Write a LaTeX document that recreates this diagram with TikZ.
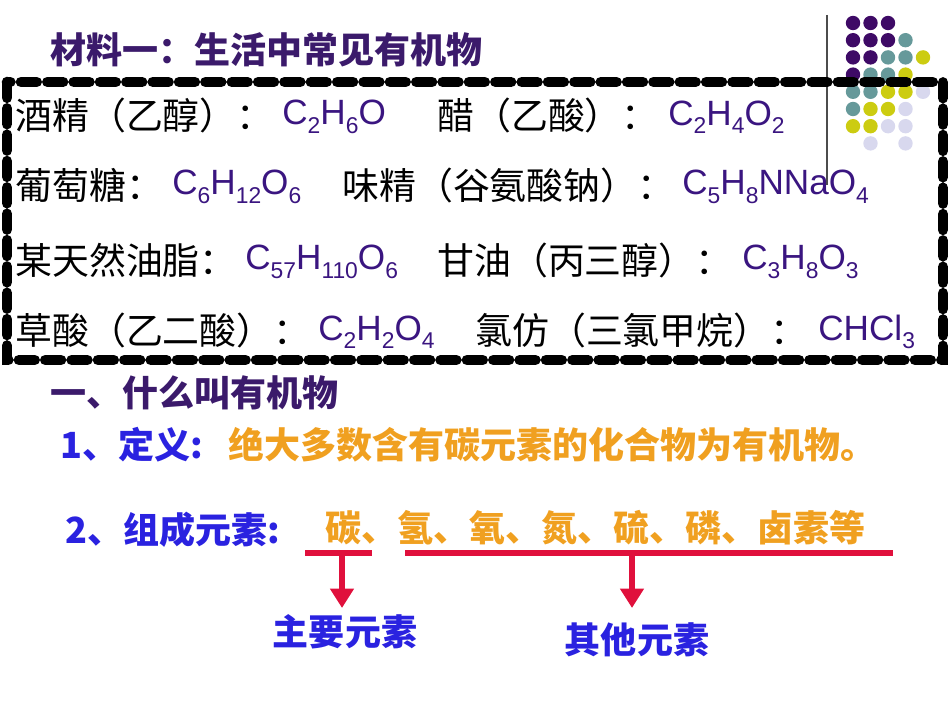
\documentclass[tikz,border=0pt]{standalone}
\usepackage{fontspec}
\usetikzlibrary{arrows.meta}
\setmainfont{Liberation Sans}
\newfontfamily\cjk{Noto Sans CJK SC}
\definecolor{ttl}{HTML}{3B1A6B}
\definecolor{frm}{HTML}{3A1580}
\definecolor{blu}{HTML}{2A22E0}
\definecolor{org}{HTML}{F0A020}
\definecolor{rd}{HTML}{E0103C}
\definecolor{dP}{HTML}{3E0A66}
\definecolor{dT}{HTML}{66999A}
\definecolor{dY}{HTML}{CCCC11}
\definecolor{dL}{HTML}{D8D8EE}
\newcommand\sbs[1]{\raisebox{-0.45ex}{\fontsize{13}{13}\selectfont #1}}
\begin{document}
\begin{tikzpicture}[x=0.02cm,y=-0.02cm,
  cn/.style={anchor=west,inner sep=0,font=\cjk\fontsize{21}{21}\selectfont},
  fm/.style={anchor=west,inner sep=0,text=frm,font=\fontsize{20}{20}\selectfont},
  hd/.style={anchor=west,inner sep=0,text=ttl,font=\cjk\bfseries\fontsize{20.5}{20.5}\selectfont},
  bar/.style={rd,line width=3pt},
  arr/.style={rd,line width=3pt,-{Triangle[length=11pt,width=13pt]}}]
\useasboundingbox (0,0) rectangle (950,713);
% decoration
\draw[black!70,line width=0.8pt] (827,15) -- (827,185);
\foreach \r/\lst in {0/{1/P,2/P,3/P},1/{1/P,2/P,3/P,4/T},2/{1/P,2/P,3/T,4/T,5/Y},3/{1/P,2/T,3/T,4/Y},4/{1/T,2/T,3/Y,4/Y,5/L},5/{1/T,2/Y,3/Y,4/L},6/{1/Y,2/Y,3/L,4/L},7/{2/L,4/L}}{
  \foreach \c/\k in \lst { \fill[d\k] ({853+17.5*(\c-1)},{23+17.2*\r}) circle (7.2); } }
\draw[line width=6pt,line cap=round,dash pattern=on 9pt off 6pt] (7,82) rectangle (943,360);
\node[hd] (t1) at (50,50) {材料一：生活中常见有机物};
\node[cn] (a1) at (15,115) {酒精（乙醇）：};
\node[fm] (f1) at (282,117) {C\sbs2H\sbs6O};
\node[cn] (a2) at (437,115) {醋（乙酸）：};
\node[fm] (f2) at (668,117) {C\sbs2H\sbs4O\sbs2};
\node[cn] (b1) at (15,185) {葡萄糖：};
\node[fm] (g1) at (172,187) {C\sbs6H\sbs{12}O\sbs6};
\node[cn] (b2) at (342,185) {味精（谷氨酸钠）：};
\node[fm] (g2) at (682,187) {C\sbs5H\sbs8NNaO\sbs4};
\node[cn] (c1) at (15,260) {某天然油脂：};
\node[fm] (h1) at (245,262) {C\sbs{57}H\sbs{110}O\sbs6};
\node[cn] (c2) at (437,260) {甘油（丙三醇）：};
\node[fm] (h2) at (742,262) {C\sbs3H\sbs8O\sbs3};
\node[cn] (d1) at (15,330) {草酸（乙二酸）：};
\node[fm] (k1) at (318,332) {C\sbs2H\sbs2O\sbs4};
\node[cn] (d2) at (475,330) {氯仿（三氯甲烷）：};
\node[fm] (k2) at (818,332) {CHCl\sbs3};
\node[hd] (t2) at (50,393) {一、什么叫有机物};
\node[hd,text=blu] (s1) at (60,445) {1、定义:};
\node[hd,text=org] (s1b) at (228,445) {绝大多数含有碳元素的化合物为有机物。};
\node[hd,text=blu] (s2) at (65,530) {2、组成元素:};
\node[hd,text=org] (el) at (325,528) {碳、氢、氧、氮、硫、磷、卤素等};
\coordinate (l1) at (305,553); \coordinate (l2) at (372,553);
\coordinate (r1) at (405,553); \coordinate (r2) at (893,553);
\draw[bar] (l1) -- (l2);
\draw[bar] (r1) -- (r2);
\node[hd,text=blu,anchor=center] (m1) at (345,632) {主要元素};
\node[hd,text=blu,anchor=center] (m2) at (637,640) {其他元素};
\draw[arr] (342,553) -- (342,608);
\draw[arr] (632,553) -- (632,608);
\end{tikzpicture}
\end{document}
